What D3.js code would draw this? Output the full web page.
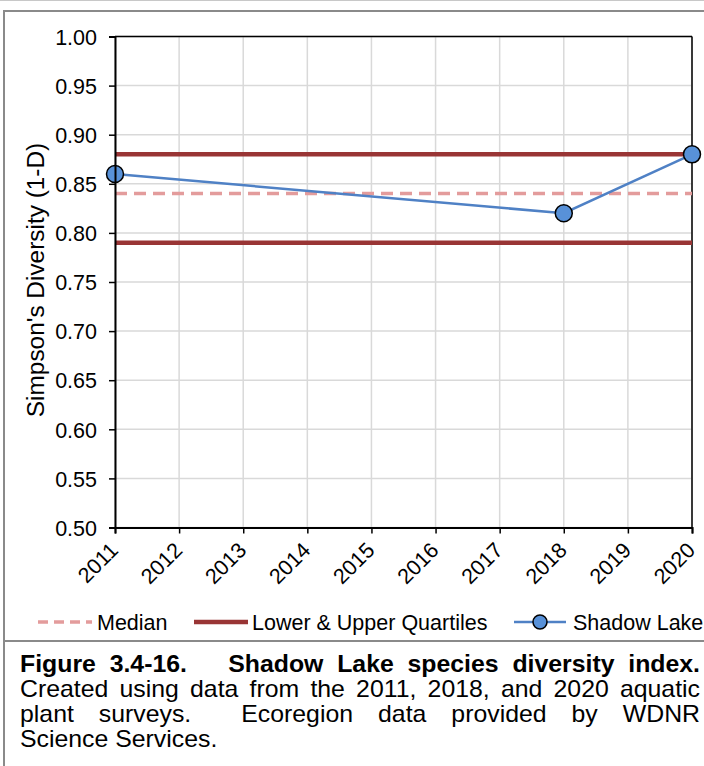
<!DOCTYPE html>
<html><head><meta charset="utf-8">
<script src="https://cdn.jsdelivr.net/npm/d3@7"></script>
<style>body{margin:0;background:#fff}svg{display:block}</style>
</head><body>
<script>
const years = [2011,2012,2013,2014,2015,2016,2017,2018,2019,2020];
const yTicks = [0.50,0.55,0.60,0.65,0.70,0.75,0.80,0.85,0.90,0.95,1.00];
const lakeYears = [2011, 2018, 2020];
const lakeValues = [0.86, 0.82, 0.88];
const medianValue = 0.84;
const quartileValues = [0.79, 0.88];
const legendLabels = ["Median", "Lower & Upper Quartiles", "Shadow Lake"];
const yLabel = "Simpson's Diversity (1-D)";
const captionTitle = "Figure 3.4-16.   Shadow Lake species diversity index.";
const captionLines = ["Created using data from the 2011, 2018, and 2020 aquatic",
  "plant surveys.  Ecoregion data provided by WDNR", "Science Services."];

const W=704,H=766;
const FF="'Liberation Sans', Arial, sans-serif";
const svg=d3.select("body").append("svg").attr("width",W).attr("height",H)
  .style("font-family",FF);

// frame
svg.append("line").attr("x1",0).attr("x2",W).attr("y1",0.5).attr("y2",0.5).attr("stroke","#c8c8c8").attr("stroke-width",1);
svg.append("line").attr("x1",4).attr("x2",W).attr("y1",11).attr("y2",11).attr("stroke","#8a8a8a").attr("stroke-width",2);
svg.append("line").attr("x1",4).attr("x2",4).attr("y1",10).attr("y2",H).attr("stroke","#8a8a8a").attr("stroke-width",2);
svg.append("line").attr("x1",4).attr("x2",W).attr("y1",641).attr("y2",641).attr("stroke","#8a8a8a").attr("stroke-width",2);

const x=d3.scaleLinear().domain([2011,2020]).range([115,692]);
const y=d3.scaleLinear().domain([0.5,1.0]).range([527.5,36.5]);

const g=svg.append("g");
// grid
g.selectAll(".vg").data(years).join("line").attr("x1",d=>x(d)).attr("x2",d=>x(d))
  .attr("y1",y(1)).attr("y2",y(0.5)).attr("stroke","#d9d9d9").attr("stroke-width",1.5);
g.selectAll(".hg").data(yTicks).join("line").attr("x1",x(2011)).attr("x2",x(2020))
  .attr("y1",d=>y(d)).attr("y2",d=>y(d)).attr("stroke","#d9d9d9").attr("stroke-width",1.5);

// box top/right
g.append("line").attr("x1",x(2011)).attr("x2",x(2020)).attr("y1",y(1)).attr("y2",y(1)).attr("stroke","#000").attr("stroke-width",1.5);
g.append("line").attr("x1",x(2020)).attr("x2",x(2020)).attr("y1",y(1)).attr("y2",y(0.5)).attr("stroke","#000").attr("stroke-width",1.5);

// axes
const yAxis=d3.axisLeft(y).tickValues(yTicks).tickFormat(d3.format(".2f")).tickSizeOuter(0).tickSize(6).tickPadding(12);
const ya=svg.append("g").attr("transform",`translate(${x(2011)},0)`).call(yAxis);
ya.attr("font-size",null).attr("font-family",null);
ya.select(".domain").attr("stroke","#000").attr("stroke-width",2);
ya.selectAll(".tick line").attr("stroke","#000").attr("stroke-width",1.5);
ya.selectAll(".tick text").style("font-size","21.5px").attr("fill","#000").style("font-family",FF).attr("dy","0.36em");

const xAxis=d3.axisBottom(x).tickValues(years).tickFormat(d3.format("d")).tickSizeOuter(0).tickSize(6);
const xa=svg.append("g").attr("transform",`translate(0,${y(0.5)})`).call(xAxis);
xa.attr("font-size",null).attr("font-family",null);
xa.select(".domain").attr("stroke","#000").attr("stroke-width",2);
xa.selectAll(".tick line").attr("stroke","#000").attr("stroke-width",1.5);
xa.selectAll(".tick text").style("font-size","21.5px").attr("fill","#000").style("font-family",FF)
  .attr("text-anchor","end").attr("dy",0).attr("y",0)
  .attr("transform","translate(4,24) rotate(-45)");

// y label
svg.append("text").attr("transform",`translate(44,280) rotate(-90)`)
  .attr("text-anchor","middle").style("font-size","24.4px").text(yLabel);

// quartiles
g.selectAll(".q").data(quartileValues).join("line").attr("x1",x(2011)).attr("x2",x(2020))
  .attr("y1",d=>y(d)).attr("y2",d=>y(d)).attr("stroke","#993535").attr("stroke-width",4.5);
// median
g.append("line").attr("x1",x(2011)).attr("x2",x(2020)).attr("y1",y(medianValue)).attr("y2",y(medianValue))
  .attr("stroke","#e39c9c").attr("stroke-width",3.5).attr("stroke-dasharray","12,7");
// lake
const pts=lakeYears.map((yr,i)=>[yr,lakeValues[i]]);
g.append("path").datum(pts).attr("d",d3.line().x(d=>x(d[0])).y(d=>y(d[1])))
  .attr("fill","none").attr("stroke","#4f81c5").attr("stroke-width",2.5);
g.selectAll(".pt").data(pts).join("circle").attr("cx",d=>x(d[0])).attr("cy",d=>y(d[1])).attr("r",8.5)
  .attr("fill","#5891d8").attr("stroke","#000").attr("stroke-width",1.5);

// legend
const ly=622;
const lg=svg.append("g").style("font-size","21.5px");
lg.append("line").attr("x1",38).attr("x2",92).attr("y1",ly).attr("y2",ly).attr("stroke","#e39c9c").attr("stroke-width",3.5).attr("stroke-dasharray","10,6");
lg.append("text").attr("x",97).attr("y",ly+7.5).text(legendLabels[0]);
lg.append("line").attr("x1",194).attr("x2",248).attr("y1",ly).attr("y2",ly).attr("stroke","#993535").attr("stroke-width",4.5);
lg.append("text").attr("x",252).attr("y",ly+7.5).text(legendLabels[1]);
lg.append("line").attr("x1",514).attr("x2",566).attr("y1",ly).attr("y2",ly).attr("stroke","#4f81c5").attr("stroke-width",2.5);
lg.append("circle").attr("cx",540).attr("cy",ly).attr("r",7).attr("fill","#5891d8").attr("stroke","#000").attr("stroke-width",1.5);
lg.append("text").attr("x",573).attr("y",ly+7.5).text(legendLabels[2]);

// caption (glyphs slightly wide, as in the reference)
const sx=1.08, cx0=20, cx1=700;
const target=(cx1-cx0)/sx;
function justify(t){
  const nat=t.node().getComputedTextLength();
  const n=(t.text().match(/ /g)||[]).length;
  if(n>0) t.attr("word-spacing",(target-nat)/n);
}
const cap=svg.append("g").attr("transform",`translate(${cx0},0) scale(${sx},1)`);
const t0=cap.append("text").attr("x",0).attr("y",672).style("font-size","23px").style("white-space","pre")
  .attr("font-weight","bold").text(captionTitle);
justify(t0);
captionLines.forEach((l,i)=>{
  const t=cap.append("text").attr("x",0).attr("y",697+i*25).style("font-size","23px").style("white-space","pre").text(l);
  if(i<2) justify(t);
});
</script>
</body></html>
